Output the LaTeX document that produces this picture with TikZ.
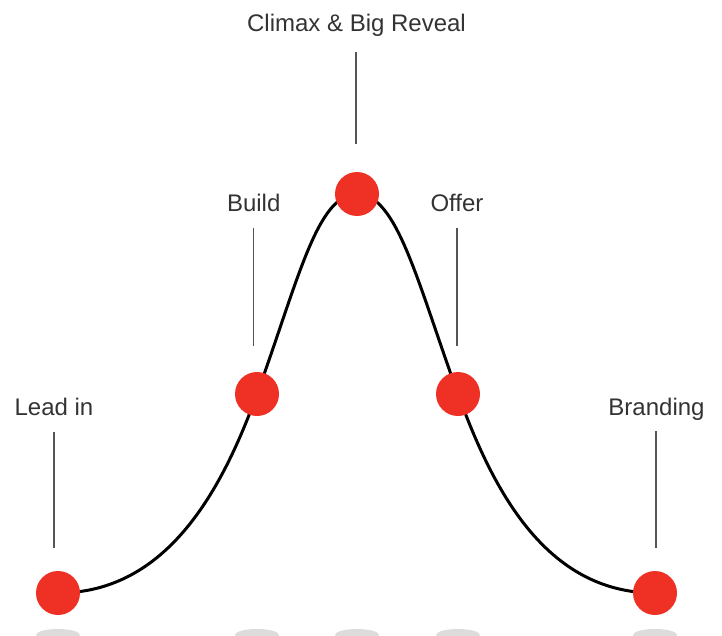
\documentclass[tikz,border=0pt]{standalone}
\usepackage{fontspec}
\setmainfont{Liberation Sans}
\definecolor{dotred}{HTML}{EF3025}
\definecolor{shadowgray}{HTML}{DCDCDC}
\definecolor{labelgray}{HTML}{333333}
\definecolor{leadergray}{HTML}{555555}
\begin{document}
\begin{tikzpicture}[x=1pt,y=-1pt,
  dotnode/.style={circle,fill=dotred,draw=none,minimum size=44pt,inner sep=0pt},
  shadownode/.style={fill=shadowgray,draw=none},
  labelnode/.style={anchor=base,inner sep=0pt,text=labelgray,font=\fontsize{24}{28}\selectfont},
  leader/.style={draw=leadergray,line width=1.4pt},
  curveline/.style={draw=black,line width=3pt}]
\useasboundingbox (0,0) rectangle (722,636);
\clip (0,0) rectangle (722,636);
% shadows
\foreach \x in {58,257,357,458,655}{
  \fill[shadownode] (\x,635) ellipse [x radius=22, y radius=6];
}
% curve
\coordinate (A) at (58,593);
\coordinate (B) at (257,394);
\coordinate (C) at (357,194);
\coordinate (D) at (458,394);
\coordinate (E) at (655,593);
\draw[curveline] (A) .. controls (168,593) and (222.8,488) .. (B)
  .. controls (298,281.2) and (317,194) .. (C)
  .. controls (397,194) and (417,281.2) .. (D)
  .. controls (492.2,488) and (545,593) .. (E);
% leader lines
\coordinate (l1t) at (54,432);  \coordinate (l1b) at (54,548);
\coordinate (l2t) at (253.5,228); \coordinate (l2b) at (253.5,346);
\coordinate (l3t) at (356,52);  \coordinate (l3b) at (356,144);
\coordinate (l4t) at (457,228); \coordinate (l4b) at (457,346);
\coordinate (l5t) at (656,431); \coordinate (l5b) at (656,548);
\draw[leader] (l1t) -- (l1b);
\draw[leader] (l2t) -- (l2b);
\draw[leader] (l3t) -- (l3b);
\draw[leader] (l4t) -- (l4b);
\draw[leader] (l5t) -- (l5b);
% dots
\node[dotnode] (leadin) at (A) {};
\node[dotnode] (build) at (B) {};
\node[dotnode] (climax) at (C) {};
\node[dotnode] (offer) at (D) {};
\node[dotnode] (branding) at (E) {};
% labels
\node[labelnode] (tclimax) at (356.5,31.5) {Climax \& Big Reveal};
\node[labelnode] (tbuild) at (253.7,212) {Build};
\node[labelnode] (toffer) at (457,212) {Offer};
\node[labelnode] (tleadin) at (54,415.5) {Lead in};
\node[labelnode] (tbranding) at (656.5,415.5) {Branding};
\end{tikzpicture}
\end{document}
